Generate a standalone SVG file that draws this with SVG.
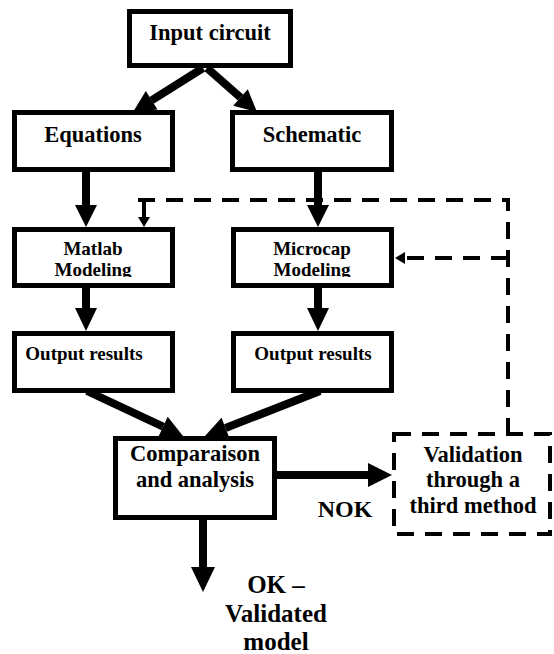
<svg xmlns="http://www.w3.org/2000/svg" width="554" height="654" viewBox="0 0 554 654">
<style>
.box{fill:#fff;stroke:#000;stroke-width:5}
.dbox{fill:#fff;stroke:#000;stroke-width:4;stroke-dasharray:17 11}
.t{font-weight:bold;fill:#000;text-anchor:middle}
.big{font-size:22.5px}
.mid{font-size:19px}
.lg{font-size:25px}
.ln{stroke:#000;stroke-width:8;fill:none}
.dl{stroke:#000;stroke-width:4;fill:none;stroke-dasharray:17 11}
.hd{fill:#000}
</style>
<defs>
<clipPath id="clipM"><rect x="0" y="0" width="554" height="277"/></clipPath>
</defs>
<rect width="554" height="654" fill="#fff"/>
<g id="connectors">
<line class="ln" x1="203" y1="68" x2="151.6" y2="100.3"/>
<polygon class="hd" points="133,112 157.5,109.6 145.8,91"/>
<line class="ln" x1="207" y1="68" x2="240.5" y2="97.5"/>
<polygon class="hd" points="257,112 233.2,105.8 247.8,89.2"/>
<line class="ln" x1="86" y1="172" x2="86" y2="206"/>
<polygon class="hd" points="75,205 97,205 86,227"/>
<line class="ln" x1="318" y1="172" x2="318" y2="206"/>
<polygon class="hd" points="307,205 329,205 318,227"/>
<line class="ln" x1="86" y1="288" x2="86" y2="309"/>
<polygon class="hd" points="75,308 97,308 86,331"/>
<line class="ln" x1="318" y1="288" x2="318" y2="309"/>
<polygon class="hd" points="307,308 329,308 318,331"/>
<line class="ln" x1="87" y1="391" x2="163.1" y2="426.7"/>
<polygon class="hd" points="183,436 158.4,436.7 167.7,416.7"/>
<line class="ln" x1="320" y1="391" x2="225.5" y2="428"/>
<polygon class="hd" points="205,436 221.5,417.8 229.5,438.2"/>
<line class="ln" x1="277" y1="475" x2="369" y2="475"/>
<polygon class="hd" points="368,463 368,487 392,475"/>
<line class="ln" x1="203" y1="520" x2="203" y2="568"/>
<polygon class="hd" points="191,567 215,567 203,592"/>
<path class="dl" d="M138,200 H508 V434"/>
<line stroke="#000" stroke-width="4" x1="144" y1="200" x2="144" y2="218"/>
<polygon class="hd" points="138,217 150,217 144,227"/>
<line class="dl" x1="508" y1="258" x2="404" y2="258"/>
<polygon class="hd" points="405,252 405,264 395,258"/>
</g>
<g font-family="'Liberation Serif', 'Times New Roman', 'DejaVu Serif', serif">
<g id="input">
<rect class="box" x="129.5" y="11.5" width="161" height="54"/>
<text class="t big" x="210" y="40">Input circuit</text>
</g>
<g id="equations">
<rect class="box" x="14.5" y="112.5" width="158" height="57"/>
<text class="t big" x="93" y="142">Equations</text>
</g>
<g id="schematic">
<rect class="box" x="232.5" y="112.5" width="159" height="57"/>
<text class="t big" x="312" y="142">Schematic</text>
</g>
<g id="matlab">
<rect class="box" x="14.5" y="229.5" width="158" height="56"/>
<g clip-path="url(#clipM)">
<text class="t mid" x="93" y="255">Matlab</text>
<text class="t mid" x="93" y="276">Modeling</text>
</g>
</g>
<g id="microcap">
<rect class="box" x="233.5" y="229.5" width="158" height="56"/>
<g clip-path="url(#clipM)">
<text class="t mid" x="312" y="255">Microcap</text>
<text class="t mid" x="312" y="276">Modeling</text>
</g>
</g>
<g id="output1">
<rect class="box" x="14.5" y="333.5" width="158" height="57"/>
<text class="t mid" x="84" y="360">Output results</text>
</g>
<g id="output2">
<rect class="box" x="233.5" y="333.5" width="158" height="57"/>
<text class="t mid" x="313" y="360">Output results</text>
</g>
<g id="comparaison">
<rect class="box" x="115.5" y="438.5" width="159" height="79"/>
<text class="t big" x="195" y="461">Comparaison</text>
<text class="t big" x="195" y="487">and analysis</text>
</g>
<g id="validation">
<rect class="dbox" x="394" y="434" width="156" height="100"/>
<text class="t big" x="473" y="462">Validation</text>
<text class="t big" x="473" y="487">through a</text>
<text class="t big" x="473" y="513">third method</text>
</g>
<g id="labels">
<text class="t" font-size="24" x="345" y="517">NOK</text>
<text class="t lg" x="276" y="593">OK –</text>
<text class="t lg" x="276" y="622">Validated</text>
<text class="t lg" x="276" y="650">model</text>
</g>
</g>
</svg>
